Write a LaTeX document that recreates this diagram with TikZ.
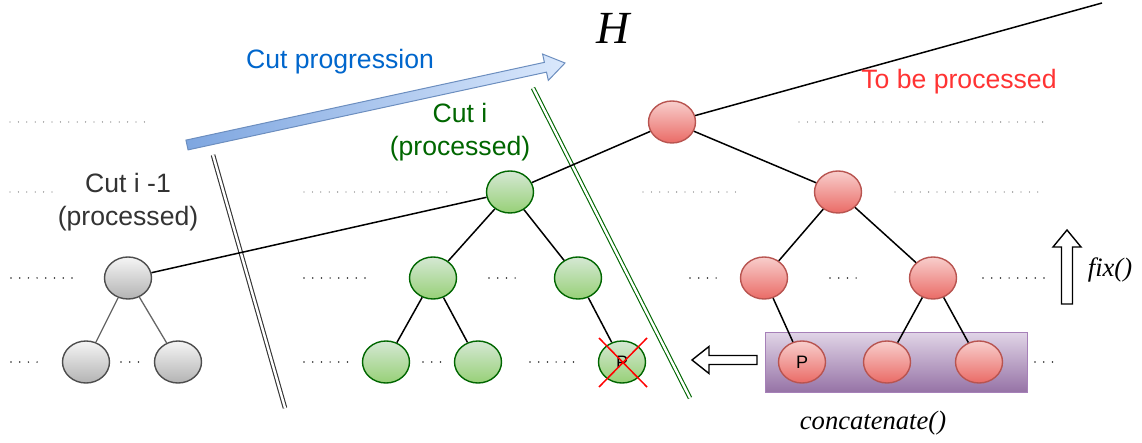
\documentclass[tikz,border=0pt]{standalone}
\usepackage{fontspec}
\setmainfont{Liberation Sans}
\newfontfamily\timesfont{Liberation Serif}
\usetikzlibrary{shapes.geometric}

\definecolor{redT}{HTML}{F8CECC}
\definecolor{redB}{HTML}{EA6B66}
\definecolor{redL}{HTML}{B85450}
\definecolor{greenT}{HTML}{D5E8D4}
\definecolor{greenB}{HTML}{97D077}
\definecolor{greenL}{HTML}{006600}
\definecolor{grayT}{HTML}{F5F5F5}
\definecolor{grayB}{HTML}{B3B3B3}
\definecolor{grayL}{HTML}{4D4D4D}
\definecolor{purpT}{HTML}{E1D5E7}
\definecolor{purpB}{HTML}{9673A6}
\definecolor{purpL}{HTML}{A680B8}
\definecolor{arrowD}{HTML}{7EA6E0}
\definecolor{arrowL}{HTML}{DAE8FC}
\definecolor{arrowS}{HTML}{6C8EBF}
\definecolor{progblue}{HTML}{0066CC}
\definecolor{todored}{HTML}{FF3333}
\definecolor{darktext}{HTML}{333333}

\tikzset{
  treenode/.style={ellipse, minimum width=47pt, minimum height=42pt,
    inner sep=0pt, line width=1.4pt, font=\fontsize{18}{18}\selectfont,
    text=black},
  rednode/.style={treenode, draw=redL, top color=redT, bottom color=redB},
  greennode/.style={treenode, draw=greenL, top color=greenT, bottom color=greenB},
  graynode/.style={treenode, draw=grayL, top color=grayT, bottom color=grayB},
  treeedge/.style={line width=1.5pt, black},
  grayedge/.style={line width=1.3pt, black!60},
  cutline/.style={line width=1.1pt, double=white, double distance=2.4pt},
  dotsdark/.style={line width=1.7pt, line cap=round, black!85,
    dash pattern=on 0pt off 8.7pt},
  dotslight/.style={line width=1.3pt, line cap=round, black!55,
    dash pattern=on 0pt off 8.4pt},
  hollowarrow/.style={draw=black, fill=white, line width=1.4pt, line join=miter},
  label/.style={font=\fontsize{26.6}{32.5}\selectfont, align=center},
  funlabel/.style={font=\timesfont\itshape\fontsize{26.6}{30}\selectfont},
}

\begin{document}
\begin{tikzpicture}[x=1pt, y=-1pt]
\useasboundingbox (0,0) rectangle (1142,443);

% cut boundaries
\coordinate (cutAtop) at (213,155);
\coordinate (cutAbot) at (285,408);
\coordinate (cutBtop) at (533,88);
\coordinate (cutBbot) at (690,398);
\draw[cutline, draw=darktext] (cutAtop) -- (cutAbot);
\draw[cutline, draw=greenL] (cutBtop) -- (cutBbot);

% progression arrow
\coordinate (progtail) at (187,145);
\begin{scope}[shift={(progtail)}, rotate=12.24]
  \draw[draw=arrowS, line width=1pt, left color=arrowD, right color=arrowL, line join=miter]
    (0,-5) -- (366.8,-5) -- (366.8,-13.5) -- (386.8,0) -- (366.8,13.5)
    -- (366.8,5) -- (0,5) -- cycle;
\end{scope}

% rows of dots
\draw[dotslight] (10,122) -- (148,122);
\draw[dotslight] (799,122) -- (1045,122);
\draw[dotslight] (10,192) -- (55,192);
\draw[dotslight] (304,192) -- (450,192);
\draw[dotslight] (643,192) -- (740,192);
\draw[dotslight] (895,192) -- (1041,192);
\draw[dotsdark] (11,278) -- (73,278);
\draw[dotsdark] (304,278) -- (366,278);
\draw[dotsdark] (489,278) -- (517,278);
\draw[dotsdark] (690,278) -- (718,278);
\draw[dotsdark] (830,278) -- (858,278);
\draw[dotsdark] (983,278) -- (1046,278);
\draw[dotsdark] (11,362) -- (38,362);
\draw[dotsdark] (121,362) -- (139,362);
\draw[dotsdark] (304,362) -- (349,362);
\draw[dotsdark] (423,362) -- (441,362);
\draw[dotsdark] (530,362) -- (575,362);
\draw[dotsdark] (834,362) -- (852,362);
\draw[dotsdark] (922,362) -- (940,362);
\draw[dotsdark] (1035,362) -- (1053,362);

% concatenated level
\node[draw=purpL, line width=1pt, top color=purpT, bottom color=purpB,
      minimum width=262pt, minimum height=60pt, inner sep=0pt]
      (concat) at (896,362) {};

% processed subtree of cut i-1
\node[graynode] (g0) at (128,278) {};
\node[graynode] (g1) at (86,362) {};
\node[graynode] (g2) at (178,362) {};

% processed subtree of cut i
\node[greennode] (n0) at (510,192) {};
\node[greennode] (n1) at (433,278) {};
\node[greennode] (n2) at (578,278) {};
\node[greennode] (n3) at (386,362) {};
\node[greennode] (n4) at (478,362) {};
\node[greennode] (n5) at (622,362) {P};

% subtree still to be processed
\node[rednode] (r0) at (672,122) {};
\node[rednode] (r1) at (838,192) {};
\node[rednode] (r2) at (764,278) {};
\node[rednode] (r3) at (933,278) {};
\node[rednode] (r4) at (802,362) {P};
\node[rednode] (r5) at (887,362) {};
\node[rednode] (r6) at (979,362) {};

\coordinate (hend) at (1102,3);

% tree edges
\draw[grayedge] (g0) -- (g1);
\draw[grayedge] (g0) -- (g2);
\draw[treeedge] (g0) -- (n0);
\draw[treeedge] (n0) -- (n1);
\draw[treeedge] (n0) -- (n2);
\draw[treeedge] (n1) -- (n3);
\draw[treeedge] (n1) -- (n4);
\draw[treeedge] (n2) -- (n5);
\draw[treeedge] (n0) -- (r0);
\draw[treeedge] (r0) -- (hend);
\draw[treeedge] (r0) -- (r1);
\draw[treeedge] (r1) -- (r2);
\draw[treeedge] (r1) -- (r3);
\draw[treeedge] (r2) -- (r4);
\draw[treeedge] (r3) -- (r5);
\draw[treeedge] (r3) -- (r6);

% replaced node
\draw[red, line width=1.5pt] (n5.center) ++(-23,-24) -- ++(48,49);
\draw[red, line width=1.5pt] (n5.center) ++(-23,25) -- ++(48,-49);

% hollow arrows
\coordinate (concattip) at (692,360);
\draw[hollowarrow] (757,355.5) -- (709,355.5) -- (709,346.5) -- (concattip)
  -- (709,373.5) -- (709,364.5) -- (757,364.5) -- cycle;
\coordinate (fixtip) at (1067,230);
\draw[hollowarrow] (1061.5,304) -- (1061.5,247) -- (1053,247) -- (fixtip)
  -- (1081,247) -- (1072.5,247) -- (1072.5,304) -- cycle;

% labels
\node[font=\timesfont\itshape\fontsize{46}{46}\selectfont] (hlabel) at (613,28) {H};
\node[label, text=progblue] (proglabel) at (340,62) {Cut progression};
\node[label, text=greenL] (cutilabel) at (460,132) {Cut i\\(processed)};
\node[label, text=darktext] (cutprevlabel) at (128,202) {Cut i -1\\(processed)};
\node[label, text=todored] (todolabel) at (959,82) {To be processed};
\node[funlabel] (fixlabel) at (1110,270) {fix()};
\node[funlabel] (concatlabel) at (873,423) {concatenate()};
\end{tikzpicture}
\end{document}
